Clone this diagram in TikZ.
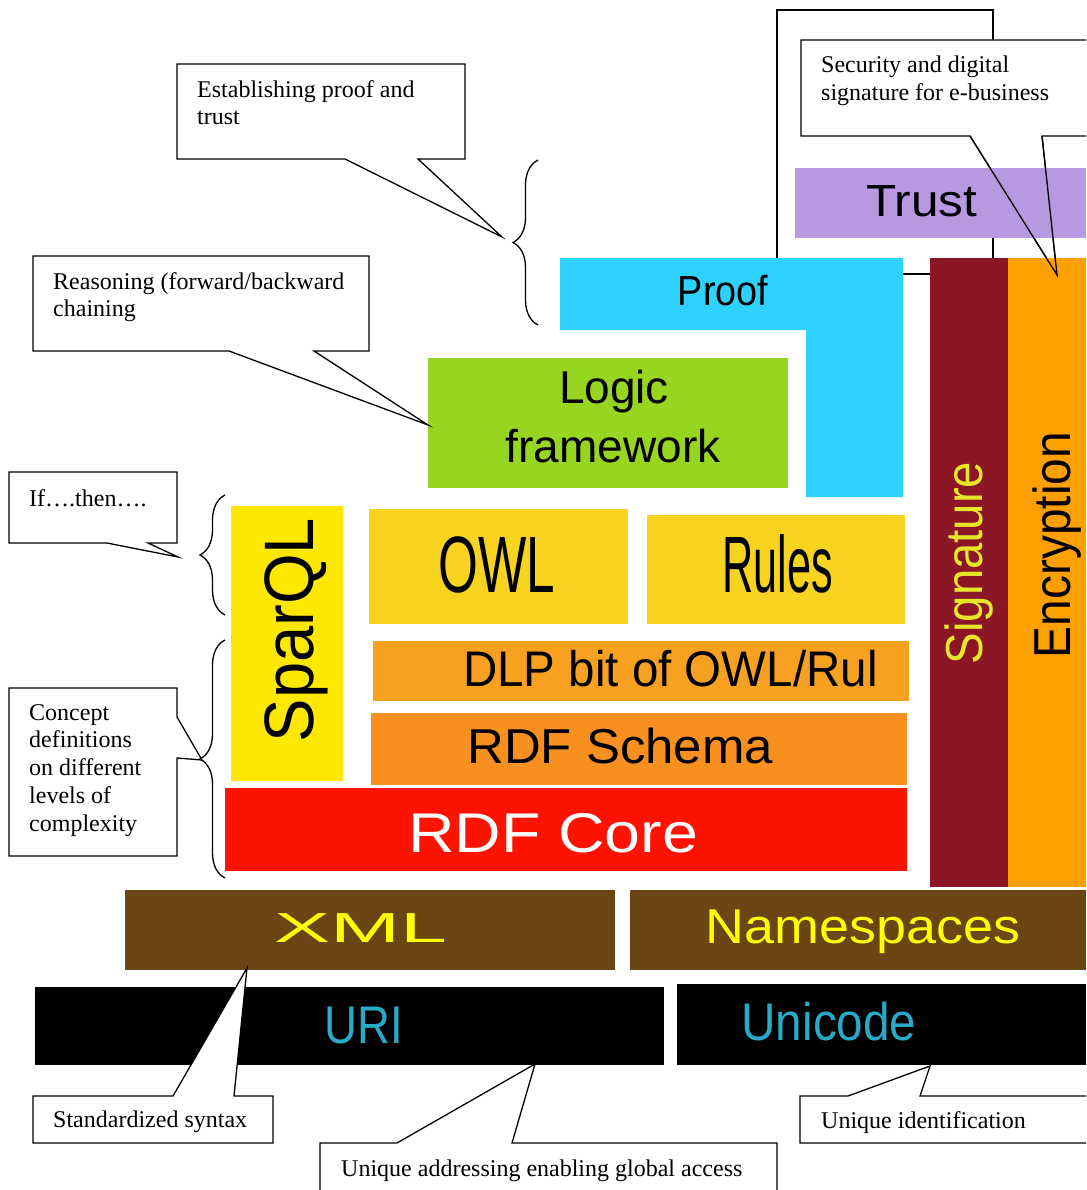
\documentclass[tikz,border=0pt]{standalone}
\usepackage{fontspec}
\usepackage{graphicx}
\setmainfont{Liberation Serif}
\newfontfamily\blockfont{Liberation Sans}
\usetikzlibrary{decorations.pathreplacing}

\definecolor{trustc}{RGB}{184,152,224}
\definecolor{proofc}{RGB}{45,211,254}
\definecolor{logicc}{RGB}{151,213,32}
\definecolor{owlc}{RGB}{248,212,32}
\definecolor{sparqlc}{RGB}{255,232,0}
\definecolor{dlpc}{RGB}{248,160,32}
\definecolor{schemac}{RGB}{247,144,30}
\definecolor{corec}{RGB}{255,18,0}
\definecolor{sigc}{RGB}{140,22,37}
\definecolor{sigtext}{RGB}{230,230,40}
\definecolor{encc}{RGB}{251,160,0}
\definecolor{xmlc}{RGB}{107,69,19}
\definecolor{xmltext}{RGB}{255,255,0}
\definecolor{uritext}{RGB}{40,170,200}

\newcommand{\blocksize}[1]{\fontsize{#1}{#1}\selectfont}

\tikzset{
  callout/.style={draw=black, fill=white, line width=1.3pt},
  note/.style={inner sep=0pt, anchor=north west, align=left, font=\fontsize{24}{27.8}\selectfont},
  layertext/.style={inner sep=0pt, anchor=base, font=\blockfont},
  bracket/.style={decorate, decoration={brace, amplitude=25pt}, line width=1.3pt},
}

\begin{document}
\begin{tikzpicture}[x=1pt,y=-1pt]
\path[use as bounding box] (0,0) rectangle (1086,1190);
\clip (0,0) rectangle (1086,1190);
% frame and callout behind the trust layer
\draw[line width=1.3pt] (777,10) rectangle (993,274);
\draw[callout] (801,40) -- (1100,40) -- (1100,136) -- (1042,136) -- (1057,275) -- (970,136) -- (801,136) -- cycle;
\node[note] (security) at (821,56) {Security and digital\\signature for e-business};

% layers
\fill[trustc] (795,168) rectangle (1086,238);
\fill[proofc] (560,258) -- (903,258) -- (903,497) -- (806,497) -- (806,330) -- (560,330) -- cycle;
\fill[sigc] (930,258) rectangle (1008,887);
\fill[encc] (1008,258) rectangle (1086,887);
\fill[logicc] (428,358) rectangle (788,488);
\fill[sparqlc] (231,506) rectangle (343,781);
\fill[owlc] (369,509) rectangle (628,624);
\fill[owlc] (647,515) rectangle (905,624);
\fill[dlpc] (373,641) rectangle (909,701);
\fill[schemac] (371,713) rectangle (907,785);
\fill[corec] (225,788) rectangle (907,871);
\fill[xmlc] (125,890) rectangle (615,970);
\fill[xmlc] (630,890) rectangle (1086,970);
\fill[black] (35,987) rectangle (664,1065);
\fill[black] (677,984) rectangle (1086,1065);
\draw[line width=1.3pt] (970,136) -- (1057,275) -- (1042,136);

\node[layertext] (trust) at (922,217) {\blocksize{45}\scalebox{1.1}[1]{Trust}};
\node[layertext] (proof) at (723,305) {\blocksize{42}\scalebox{0.9}[1]{Proof}};
\node[layertext] (logic) at (614,403) {\blocksize{46}Logic};
\node[layertext] (framework) at (613,462) {\blocksize{46}framework};
\node[layertext] (owl) at (497,592) {\blocksize{80}\scalebox{0.64}[1]{OWL}};
\node[layertext] (rules) at (778,592) {\blocksize{80}\scalebox{0.54}[1]{Rules}};
\node[layertext, rotate=90] (sparql) at (313,630) {\blocksize{70}\scalebox{0.93}[1]{SparQL}};
\node[layertext, anchor=base west] (dlp) at (463,686) {\blocksize{50}\scalebox{0.95}[1]{DLP bit of OWL/Rul}};
\node[layertext, anchor=base west] (schema) at (467,763) {\blocksize{49}\scalebox{1.04}[1]{RDF Schema}};
\node[layertext, anchor=base west, text=white] (core) at (408,852) {\blocksize{56}\scalebox{1.15}[1]{RDF Core}};
\node[layertext, rotate=90, text=sigtext] (signature) at (982,563) {\blocksize{52}\scalebox{0.91}[1]{Signature}};
\node[layertext, rotate=90] (encryption) at (1070,545) {\blocksize{52}\scalebox{0.92}[1]{Encryption}};
\node[layertext, text=xmltext] (xml) at (361,942) {\blocksize{42}\scalebox{2}[1]{XML}};
\node[layertext, text=xmltext] (namespaces) at (863,943) {\blocksize{49}\scalebox{1.1}[1]{Namespaces}};
\node[layertext, text=uritext] (uri) at (364,1043) {\blocksize{53}\scalebox{0.86}[1]{URI}};
\node[layertext, text=uritext] (unicode) at (829,1040) {\blocksize{53}\scalebox{0.9}[1]{Unicode}};

% callouts
\draw[callout] (177,64) -- (465,64) -- (465,159) -- (418,159) -- (502,237) -- (345,159) -- (177,159) -- cycle;
\node[note] (proofnote) at (197,80) {Establishing proof and\\trust};
\draw[callout] (33,256) -- (369,256) -- (369,351) -- (314,351) -- (428,425) -- (229,351) -- (33,351) -- cycle;
\node[note] (logicnote) at (53,272) {Reasoning (forward/backward\\chaining};
\draw[callout] (9,472) -- (177,472) -- (177,543) -- (148,543) -- (178,557) -- (107,543) -- (9,543) -- cycle;
\node[note] (rulesnote) at (29,489) {If\dots.then\dots.};
\draw[callout] (9,688) -- (177,688) -- (177,717) -- (202,760) -- (177,758) -- (177,856) -- (9,856) -- cycle;
\node[note, align=left] (rdfnote) at (29,704) {Concept\\definitions\\on different\\levels of\\complexity};
\draw[callout] (33,1096) -- (173,1096) -- (247,968) -- (234,1096) -- (273,1096) -- (273,1143) -- (33,1143) -- cycle;
\node[note] (xmlnote) at (53,1111) {Standardized syntax};
\draw[callout] (320,1143) -- (397,1143) -- (535,1064) -- (512,1143) -- (777,1143) -- (777,1200) -- (320,1200) -- cycle;
\node[note] (urinote) at (341,1160) {Unique addressing enabling global access};
\draw[callout] (800,1096) -- (848,1096) -- (930,1066) -- (920,1096) -- (1100,1096) -- (1100,1143) -- (800,1143) -- cycle;
\node[note] (unicodenote) at (821,1111) {Unique identification};

% braces
\draw[bracket] (538,325) -- (538,160);
\draw[bracket] (225,615) -- (225,495);
\draw[bracket] (225,878) -- (225,640);
\end{tikzpicture}
\end{document}
